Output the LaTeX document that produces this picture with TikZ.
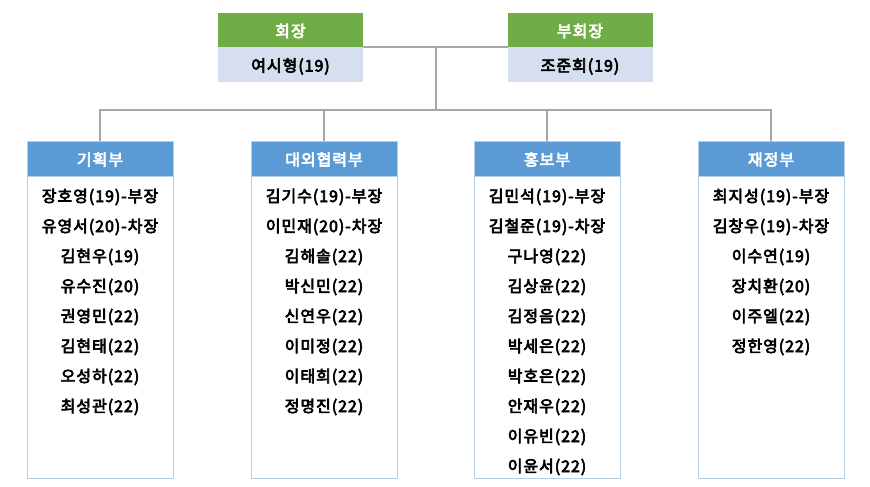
\documentclass[tikz,border=0pt]{standalone}
\usepackage{fontspec}
\setmainfont{Noto Sans CJK KR}
\newfontfamily\krbold{Noto Sans CJK KR}[FakeBold=4, LetterSpace=6]
\definecolor{grn}{HTML}{70AD47}
\definecolor{lbody}{HTML}{D6DFEF}
\definecolor{bhead}{HTML}{5B9BD5}
\definecolor{bedge}{HTML}{B7CDE2}
\definecolor{lgray}{HTML}{A6A6A6}
\begin{document}
\begin{tikzpicture}[x=1pt,y=-1pt,
  txt/.style={font=\fontsize{16}{16}\krbold, text height=14pt, text depth=0pt},
  tophead/.style={txt, fill=grn, draw=none, minimum width=145pt, minimum height=34pt, inner sep=0pt, outer sep=0pt, text=white},
  topbody/.style={txt, fill=lbody, draw=none, minimum width=145pt, minimum height=35pt, inner sep=0pt, outer sep=0pt},
  dhead/.style={txt, fill=bhead, draw=bedge, minimum width=146pt, minimum height=35pt, inner sep=0pt, outer sep=0pt, text=white},
  dbody/.style={fill=white, draw=bedge, minimum width=146pt, minimum height=302pt, inner sep=0pt, outer sep=0pt},
  member/.style={inner sep=0pt, anchor=base, font=\fontsize{16}{16}\krbold},
  conn/.style={draw=lgray, line width=1.2pt}]
\useasboundingbox (0,0) rectangle (870,487);
% top boxes
\node[tophead] (ph) at (290.5,30) {회장};
\node[topbody] (pb) at (290.5,64.5) {여시형(19)};
\node[tophead] (vh) at (580,30) {부회장};
\node[topbody] (vb) at (580,64.5) {조준희(19)};
% departments
\node[dbody] (d1b) at (100,327) {};
\node[dhead] (d1) at (100,158.5) {기획부};
\node[dbody] (d2b) at (324,327) {};
\node[dhead] (d2) at (324,158.5) {대외협력부};
\node[dbody] (d3b) at (547,327) {};
\node[dhead] (d3) at (547,158.5) {홍보부};
\node[dbody] (d4b) at (771,327) {};
\node[dhead] (d4) at (771,158.5) {재정부};
% connectors
\coordinate (top) at (436,47);
\coordinate (hub) at (436,110);
\draw[conn] (ph.south east) -- (vh.south west);
\draw[conn] (top) -- (hub);
\draw[conn] (d1.north) |- (hub) -| (d4.north);
\draw[conn] (d2.north) -- (d2.north |- hub);
\draw[conn] (d3.north) -- (d3.north |- hub);
% members
\foreach \n [count=\i] in {장호영(19)-부장,유영서(20)-차장,김현우(19),유수진(20),권영민(22),김현태(22),오성하(22),최성관(22)}
  \node[member] (d1m\i) at (100,202+30*\i-30) {\n};
\foreach \n [count=\i] in {김기수(19)-부장,이민재(20)-차장,김해솔(22),박신민(22),신연우(22),이미정(22),이태희(22),정명진(22)}
  \node[member] (d2m\i) at (324,202+30*\i-30) {\n};
\foreach \n [count=\i] in {김민석(19)-부장,김철준(19)-차장,구나영(22),김상윤(22),김정음(22),박세은(22),박호은(22),안재우(22),이유빈(22),이윤서(22)}
  \node[member] (d3m\i) at (547,202+30*\i-30) {\n};
\foreach \n [count=\i] in {최지성(19)-부장,김창우(19)-차장,이수연(19),장치환(20),이주엘(22),정한영(22)}
  \node[member] (d4m\i) at (771,202+30*\i-30) {\n};
\end{tikzpicture}
\end{document}
